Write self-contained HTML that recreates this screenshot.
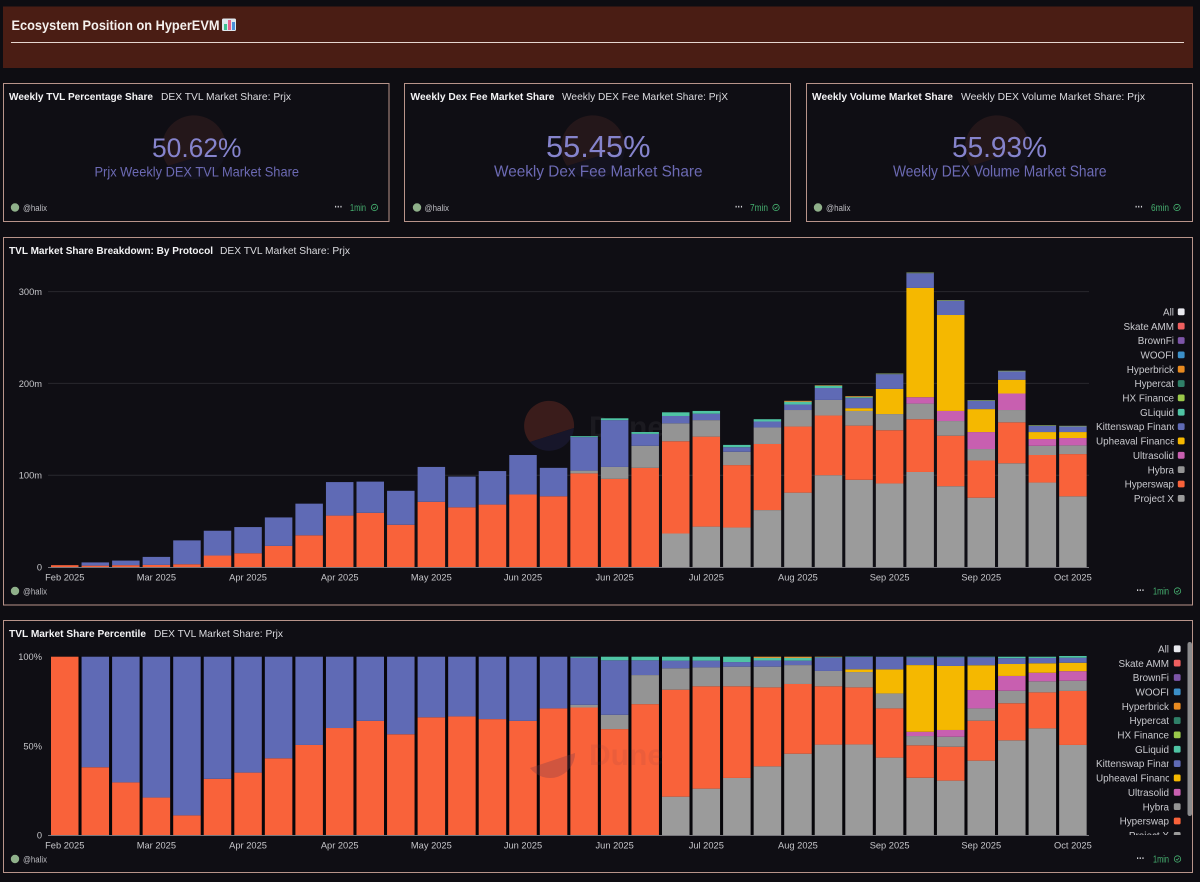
<!DOCTYPE html>
<html lang="en">
<head>
<meta charset="utf-8">
<title>Ecosystem Position on HyperEVM</title>
<style>
html,body{margin:0;padding:0;background:#0e0d12;width:1200px;height:882px;overflow:hidden}
svg{display:block;font-family:"Liberation Sans",Arial,sans-serif}
.t1{font-size:10.5px;font-weight:700;fill:#f4f4f6}
.t2{font-size:10.5px;fill:#dcdce0}
.num{fill:#8583cc}
.sub{fill:#6c6ab4}
.who{font-size:9.5px;fill:#bdbdc2}
.age{font-size:10px;fill:#46b070}
.tick{font-size:9.3px;fill:#c6c6ca}
.leg{font-size:9.9px;fill:#c9c9ce}
.dots{font-size:11px;font-weight:700;fill:#d8d8dc}
</style>
</head>
<body>
<svg id="page" xmlns="http://www.w3.org/2000/svg" width="1200" height="882" viewBox="0 0 1200 882">
  <defs>
    <clipPath id="legend-clip-a"><rect x="1096" y="304" width="78" height="205"/></clipPath>
    <clipPath id="legend-clip-b"><rect x="1096" y="642" width="73" height="193"/></clipPath>
    <clipPath id="swatch-clip-b"><rect x="1170" y="642" width="14" height="193"/></clipPath>
  </defs>

  <g>
    <rect x="3" y="6.5" width="1190" height="61.5" fill="#4a1d14"/>
    <text x="11.5" y="30" font-size="14" font-weight="700" fill="#f5f1ee" textLength="208" lengthAdjust="spacingAndGlyphs">Ecosystem Position on HyperEVM</text>
    <g>
      <rect x="222" y="18.5" width="14" height="12.5" rx="1.5" fill="#dfe8ee"/>
      <rect x="224" y="24" width="3" height="6" fill="#3fbf8f"/>
      <rect x="228" y="20" width="3" height="10" fill="#e85f8c"/>
      <rect x="232" y="22" width="3" height="8" fill="#4a90d8"/>
    </g>
    <rect x="11" y="42" width="1173" height="1" fill="#e6d6cf"/>
  </g>

  <!-- counter card 1 -->
  <g>
    <rect x="3.5" y="83.5" width="385.5" height="138" fill="#0f0e14" stroke="#b8948a"/>
    <path d="M168 166 A32 32 0 1 1 226 148 Z" fill="#24171a"/>
    <path d="M168 166 A32 32 0 0 0 226 148 Z" fill="#13121e"/>
    <text class="t1" x="9" y="100" textLength="144" lengthAdjust="spacingAndGlyphs">Weekly TVL Percentage Share</text>
    <text class="t2" x="161" y="100" textLength="130" lengthAdjust="spacingAndGlyphs">DEX TVL Market Share: Prjx</text>
    <text class="num" x="152" y="157" font-size="27" textLength="89.5" lengthAdjust="spacingAndGlyphs">50.62%</text>
    <text class="sub" x="94.5" y="176.5" font-size="14" textLength="204.5" lengthAdjust="spacingAndGlyphs">Prjx Weekly DEX TVL Market Share</text>
    <circle cx="15" cy="207.5" r="4.2" fill="#8fb08a"/>
    <text class="who" x="23" y="211" textLength="24" lengthAdjust="spacingAndGlyphs">@halix</text>
    <text class="dots" x="334.5" y="210.5" textLength="8" lengthAdjust="spacingAndGlyphs">···</text>
    <text class="age" x="350" y="211" textLength="16" lengthAdjust="spacingAndGlyphs">1min</text>
    <g fill="none" stroke="#46b070" stroke-width=".8"><circle cx="374.5" cy="207.5" r="3.2"/><path d="M373 207.6l1.1 1.1 1.9-2.2"/></g>
  </g>

  <!-- counter card 2 -->
  <g>
    <rect x="404.5" y="83.5" width="386" height="138" fill="#0f0e14" stroke="#b8948a"/>
    <path d="M567 166 A32 32 0 1 1 625 148 Z" fill="#24171a"/>
    <path d="M567 166 A32 32 0 0 0 625 148 Z" fill="#13121e"/>
    <text class="t1" x="410.5" y="100" textLength="144" lengthAdjust="spacingAndGlyphs">Weekly Dex Fee Market Share</text>
    <text class="t2" x="562" y="100" textLength="166" lengthAdjust="spacingAndGlyphs">Weekly DEX Fee Market Share: PrjX</text>
    <text class="num" x="546" y="157" font-size="31" textLength="104.5" lengthAdjust="spacingAndGlyphs">55.45%</text>
    <text class="sub" x="494" y="176.5" font-size="16" textLength="208.5" lengthAdjust="spacingAndGlyphs">Weekly Dex Fee Market Share</text>
    <circle cx="417" cy="207.5" r="4.2" fill="#8fb08a"/>
    <text class="who" x="424.5" y="211" textLength="24.5" lengthAdjust="spacingAndGlyphs">@halix</text>
    <text class="dots" x="735" y="210.5" textLength="8" lengthAdjust="spacingAndGlyphs">···</text>
    <text class="age" x="750" y="211" textLength="18" lengthAdjust="spacingAndGlyphs">7min</text>
    <g fill="none" stroke="#46b070" stroke-width=".8"><circle cx="776" cy="207.5" r="3.2"/><path d="M774.5 207.6l1.1 1.1 1.9-2.2"/></g>
  </g>

  <!-- counter card 3 -->
  <g>
    <rect x="806.5" y="83.5" width="386" height="138" fill="#0f0e14" stroke="#b8948a"/>
    <path d="M971 166 A32 32 0 1 1 1029 148 Z" fill="#24171a"/>
    <path d="M971 166 A32 32 0 0 0 1029 148 Z" fill="#13121e"/>
    <text class="t1" x="812" y="100" textLength="141" lengthAdjust="spacingAndGlyphs">Weekly Volume Market Share</text>
    <text class="t2" x="961" y="100" textLength="184" lengthAdjust="spacingAndGlyphs">Weekly DEX Volume Market Share: Prjx</text>
    <text class="num" x="952" y="157" font-size="29" textLength="95" lengthAdjust="spacingAndGlyphs">55.93%</text>
    <text class="sub" x="893" y="176.5" font-size="16" textLength="213.5" lengthAdjust="spacingAndGlyphs">Weekly DEX Volume Market Share</text>
    <circle cx="818" cy="207.5" r="4.2" fill="#8fb08a"/>
    <text class="who" x="826" y="211" textLength="24.5" lengthAdjust="spacingAndGlyphs">@halix</text>
    <text class="dots" x="1135" y="210.5" textLength="8" lengthAdjust="spacingAndGlyphs">···</text>
    <text class="age" x="1151" y="211" textLength="18" lengthAdjust="spacingAndGlyphs">6min</text>
    <g fill="none" stroke="#46b070" stroke-width=".8"><circle cx="1177" cy="207.5" r="3.2"/><path d="M1175.5 207.6l1.1 1.1 1.9-2.2"/></g>
  </g>

  <!-- TVL breakdown card -->
  <g>
    <rect x="3.5" y="237.5" width="1189" height="367.5" fill="#0f0e14" stroke="#b8948a"/>
    <text class="t1" x="9" y="254" textLength="204" lengthAdjust="spacingAndGlyphs">TVL Market Share Breakdown: By Protocol</text>
    <text class="t2" x="220" y="254" textLength="130" lengthAdjust="spacingAndGlyphs">DEX TVL Market Share: Prjx</text>
    <g>
      <path d="M530 442 A25 25 0 1 1 574 428 Z" fill="#3a1c1b"/>
      <path d="M530 442 A25 25 0 0 0 574 428 Z" fill="#17162a"/>
      <text x="589" y="437" font-size="30" font-weight="700" fill="#1b1a20">Dune</text>
    </g>
    <g id="chart-a"></g>
    <circle cx="15" cy="591" r="4.2" fill="#8fb08a"/>
    <text class="who" x="23" y="594.5" textLength="24" lengthAdjust="spacingAndGlyphs">@halix</text>
    <text class="dots" x="1136.5" y="594" textLength="8" lengthAdjust="spacingAndGlyphs">···</text>
    <text class="age" x="1153" y="594.5" textLength="16" lengthAdjust="spacingAndGlyphs">1min</text>
    <g fill="none" stroke="#46b070" stroke-width=".8"><circle cx="1177.5" cy="591" r="3.2"/><path d="M1176 591.1l1.1 1.1 1.9-2.2"/></g>
  </g>

  <!-- TVL percentile card -->
  <g>
    <rect x="3.5" y="620.5" width="1189" height="252" fill="#0f0e14" stroke="#b8948a"/>
    <text class="t1" x="9" y="637" textLength="137" lengthAdjust="spacingAndGlyphs">TVL Market Share Percentile</text>
    <text class="t2" x="154" y="637" textLength="129" lengthAdjust="spacingAndGlyphs">DEX TVL Market Share: Prjx</text>
    <rect x="51" y="656.5" width="1035" height="178.5" fill="#07060a"/>
    <g id="chart-b"></g>
    <g pointer-events="none">
      <path d="M530 768 A25 25 0 0 0 575 753 Z" fill="#7a3a4a" opacity=".32"/>
      <text x="589" y="765" font-size="30" font-weight="700" fill="#7a3a4a" opacity=".1">Dune</text>
    </g>
    <rect x="1187.5" y="642" width="4.5" height="174" rx="2.2" fill="#8a8a8c"/>
    <circle cx="15" cy="859" r="4.2" fill="#8fb08a"/>
    <text class="who" x="23" y="862.5" textLength="24" lengthAdjust="spacingAndGlyphs">@halix</text>
    <text class="dots" x="1136.5" y="862" textLength="8" lengthAdjust="spacingAndGlyphs">···</text>
    <text class="age" x="1153" y="862.5" textLength="16" lengthAdjust="spacingAndGlyphs">1min</text>
    <g fill="none" stroke="#46b070" stroke-width=".8"><circle cx="1177.5" cy="859" r="3.2"/><path d="M1176 859.1l1.1 1.1 1.9-2.2"/></g>
  </g>
</svg>

<script>
const categories = ["Feb 24","Mar 03","Mar 10","Mar 17","Mar 24","Mar 31","Apr 07","Apr 14","Apr 21","Apr 28","May 05","May 12","May 19","May 26","Jun 02","Jun 09","Jun 16","Jun 23","Jun 30","Jul 07","Jul 14","Jul 21","Jul 28","Aug 04","Aug 11","Aug 18","Aug 25","Sep 01","Sep 08","Sep 15","Sep 22","Sep 29","Oct 06","Oct 13"];
const xTickLabels = ["Feb 2025","Mar 2025","Apr 2025","Apr 2025","May 2025","Jun 2025","Jun 2025","Jul 2025","Aug 2025","Sep 2025","Sep 2025","Oct 2025"];
const tvlTickValues = [0,100,200,300];
const tvlTickLabels = ["0","100m","200m","300m"];
const pctTickValues = [0,50,100];
const pctTickLabels = ["0","50%","100%"];

/* TVL in $m per week */
const tvlProjectX  = [0,0,0,0,0,0,0,0,0,0,0,0,0,0,0,0,0,0,0,0,36.5,44,43,62,81,100,95,91,103.5,88,75.5,113,92,77];
const tvlHyperswap = [2,1.5,2,2.3,3,12.5,15,23,34.5,56,59,46,71,65,68,79,77,102,96,108,100.5,98,68,72,72,65,59,58,57.5,55,40.5,44.6,30,46];
const tvlHybra     = [0,0,0,0,0,0,0,0,0,0,0,0,0,0,0,0,0,3,13,24,19.5,18,14.5,18,18,17,16,17.6,17,16,12.5,13.4,10,9.5];
const tvlUltrasolid= [0,0,0,0,0,0,0,0,0,0,0,0,0,0,0,0,0,0,0,0,0,0,0,0,0,0,0,0,7,11,18.5,18,7.4,8];
const tvlUpheaval  = [0,0,0,0,0,0,0,0,0,0,0,0,0,0,0,0,0,0,0,0,0,0,0,0,0,0,3,27.4,119,104.5,25,15,7.6,6.5];
const tvlKittenswap= [0,3.5,5,8.7,26,27,28.5,31,34.5,36.5,34,37,38,33.5,36.5,43,31,36.5,51,13,8,7,5,6.5,6,13,11,16,16,15.5,9,9,6.6,6];
const tvlGliquid   = [0,0,0,0,0,0,0,0,0,0,0,0,0,0,0,0,0,1,2,2,4,3,2.5,2.5,3,2.5,1,0,0,0,0,0,0,0];
const tvlHxFinance = [0,0,0,0,0,0,0,0,0,0,0,0,0,0,0,0,0,0,0,0,0,0,0,0,0,0,0,.8,.8,.8,.8,.8,.8,.8];
const tvlHyperbrick= [0,0,0,0,0,0,0,0,0,0,0,0,0,0,0,0,0,0,0,0,0,0,0,0,1,.5,1,0,0,0,0,0,0,0];

/* Share of TVL in % per week */
const pctProjectX  = [0,0,0,0,0,0,0,0,0,0,0,0,0,0,0,0,0,0,0,0,21.5,26,32,38.5,45.6,50.7,50.8,43.4,32.1,30.5,41.7,53.1,59.8,50.5];
const pctHyperswap = [100,38,29.5,21,11,31.5,35,43,50.5,60,64,56.5,66,66.5,65,64,71,71.5,59.4,73.4,60,57.4,51.4,44.3,39.1,32.7,32,27.6,18.2,19,22.4,20.8,20.2,30.3];
const pctHybra     = [0,0,0,0,0,0,0,0,0,0,0,0,0,0,0,0,0,1.5,8,16.3,12,10.6,11,11.6,10.6,8.6,8.6,8.4,5.2,5.6,6.9,7,6.2,5.7];
const pctUltrasolid= [0,0,0,0,0,0,0,0,0,0,0,0,0,0,0,0,0,0,0,0,0,0,0,0,0,0,0,0,2.4,3.8,10.3,8.3,4.8,5.4];
const pctUpheaval  = [0,0,0,0,0,0,0,0,0,0,0,0,0,0,0,0,0,0,0,0,0,0,0,0,0,0,1.5,13.5,37.4,35.9,13.9,6.7,5.3,4.7];
const pctKittenswap= [0,62,70.5,79,89,68.5,65,57,49.5,40,36,43.5,34,33.5,35,36,29,26.5,30.6,8.3,4.3,3.8,2.6,3.5,2.5,7.5,7,7,4.4,4.9,4.5,3.3,3,2.8];
const pctGliquid   = [0,0,0,0,0,0,0,0,0,0,0,0,0,0,0,0,0,.5,2,2,2.2,2.2,3,1.4,1.5,.3,.2,.1,.3,.3,.3,.8,.7,1];
const pctHyperbrick= [0,0,0,0,0,0,0,0,0,0,0,0,0,0,0,0,0,0,0,0,0,0,0,.7,.7,.2,0,0,0,0,0,0,0,0];

const legendNames = ["All","Skate AMM","BrownFi","WOOFI","Hyperbrick","Hypercat","HX Finance","GLiquid","Kittenswap Finance","Upheaval Finance","Ultrasolid","Hybra","Hyperswap","Project X"];
const legendColors = ["#e8e8ee","#ee5f5f","#7d55a8","#3b8fc8","#e88a20","#2f8068","#9ac84a","#4fc4a4","#5f6ab5","#f5b800","#c85fb0","#949494","#f9623a","#9b9b9b"];

const tvlStack = [
  {name:"Project X",color:"#9b9b9b",values:tvlProjectX},
  {name:"Hyperswap",color:"#f9623a",values:tvlHyperswap},
  {name:"Hybra",color:"#949494",values:tvlHybra},
  {name:"Ultrasolid",color:"#c85fb0",values:tvlUltrasolid},
  {name:"Upheaval Finance",color:"#f5b800",values:tvlUpheaval},
  {name:"Kittenswap Finance",color:"#5f6ab5",values:tvlKittenswap},
  {name:"GLiquid",color:"#4fc4a4",values:tvlGliquid},
  {name:"HX Finance",color:"#8aa86a",values:tvlHxFinance},
  {name:"Hyperbrick",color:"#e8a040",values:tvlHyperbrick}
];
const pctStack = [
  {name:"Project X",color:"#9b9b9b",values:pctProjectX},
  {name:"Hyperswap",color:"#f9623a",values:pctHyperswap},
  {name:"Hybra",color:"#949494",values:pctHybra},
  {name:"Ultrasolid",color:"#c85fb0",values:pctUltrasolid},
  {name:"Upheaval Finance",color:"#f5b800",values:pctUpheaval},
  {name:"Kittenswap Finance",color:"#5f6ab5",values:pctKittenswap},
  {name:"GLiquid",color:"#4fc4a4",values:pctGliquid},
  {name:"Hyperbrick",color:"#e8a040",values:pctHyperbrick}
];

const NS = "http://www.w3.org/2000/svg";
function xBand(i){ return 51 + i * 30.55; }
const BAR_W = 27.5;
function yTvl(v){ return 567 - v * 0.918; }
function yPct(v){ return 835 - v * 1.783; }

function drawAxis(g, yFn, values, labels, baseY, showGrid){
  values.forEach(function(v, k){
    const y = yFn(v);
    if (v !== 0 && showGrid) {
      const line = document.createElementNS(NS, "line");
      line.setAttribute("x1", 48);
      line.setAttribute("x2", 1089);
      line.setAttribute("y1", y);
      line.setAttribute("y2", y);
      line.setAttribute("stroke", "#29282e");
      
      
      g.appendChild(line);
    }
    const t = document.createElementNS(NS, "text");
    t.setAttribute("x", 42);
    t.setAttribute("y", y + 3.5);
    t.setAttribute("text-anchor", "end");
    t.setAttribute("class", "tick");
    
    
    t.textContent = labels[k];
    g.appendChild(t);
  });
  xTickLabels.forEach(function(lab, k){
    const t = document.createElementNS(NS, "text");
    t.setAttribute("x", xBand(k * 3) + BAR_W / 2);
    t.setAttribute("y", baseY + 13.5);
    t.setAttribute("text-anchor", "middle");
    t.setAttribute("class", "tick");
    
    
    t.textContent = lab;
    g.appendChild(t);
  });
}

function drawBars(g, yFn, stack){
  categories.forEach(function(cat, i){
    let acc = 0;
    stack.forEach(function(s){
      const v = s.values[i];
      if (!v) return;
      const r = document.createElementNS(NS, "rect");
      const top = yFn(acc + v);
      r.setAttribute("x", xBand(i));
      r.setAttribute("y", top);
      r.setAttribute("width", BAR_W);
      r.setAttribute("height", yFn(acc) - top);
      r.setAttribute("fill", s.color);
      
      
      const tip = document.createElementNS(NS, "title");
      tip.textContent = cat + " " + s.name + ": " + v;
      r.appendChild(tip);
      g.appendChild(r);
      acc += v;
    });
  });
}

function drawBaseline(g, baseY){
  const line = document.createElementNS(NS, "rect");
  line.setAttribute("x", 48);
  line.setAttribute("y", baseY);
  line.setAttribute("width", 1041);
  line.setAttribute("height", 1);
  line.setAttribute("fill", "#77767c");
  
  
  g.appendChild(line);
}

function drawLegend(g, top, labelRight, swatchX, clipId, swatchClip){
  legendNames.forEach(function(name, k){
    const y = top + k * 14.35;
    const item = document.createElementNS(NS, "g");
    
    
    const t = document.createElementNS(NS, "text");
    t.setAttribute("class", "leg");
    t.setAttribute("y", y + 3.6);
    t.setAttribute("x", labelRight);
    t.setAttribute("text-anchor", "end");
    t.textContent = name;
    const holder = document.createElementNS(NS, "g");
    holder.setAttribute("clip-path", "url(#" + clipId + ")");
    holder.appendChild(t);
    item.appendChild(holder);
    const r = document.createElementNS(NS, "rect");
    r.setAttribute("x", swatchX);
    r.setAttribute("y", y - 3.4);
    r.setAttribute("width", 6.8);
    r.setAttribute("height", 6.8);
    r.setAttribute("rx", 1.5);
    r.setAttribute("fill", legendColors[k]);
    if (swatchClip) r.setAttribute("clip-path", "url(#" + swatchClip + ")");
    item.appendChild(r);
    g.appendChild(item);
    if (t.getComputedTextLength() > labelRight - 1096) {
      t.setAttribute("x", 1096);
      t.setAttribute("text-anchor", "start");
    }
  });
}

const chartA = document.getElementById("chart-a");
const chartB = document.getElementById("chart-b");

drawAxis(chartA, yTvl, tvlTickValues, tvlTickLabels, 567, true);
drawBars(chartA, yTvl, tvlStack);
drawBaseline(chartA, 567);
drawLegend(chartA, 311.8, 1174, 1177.8, "legend-clip-a", null);

drawAxis(chartB, yPct, pctTickValues, pctTickLabels, 835, false);
drawBars(chartB, yPct, pctStack);
drawBaseline(chartB, 835);
drawLegend(chartB, 648.8, 1169, 1173.8, "legend-clip-b", "swatch-clip-b");
</script>
</body>
</html>
